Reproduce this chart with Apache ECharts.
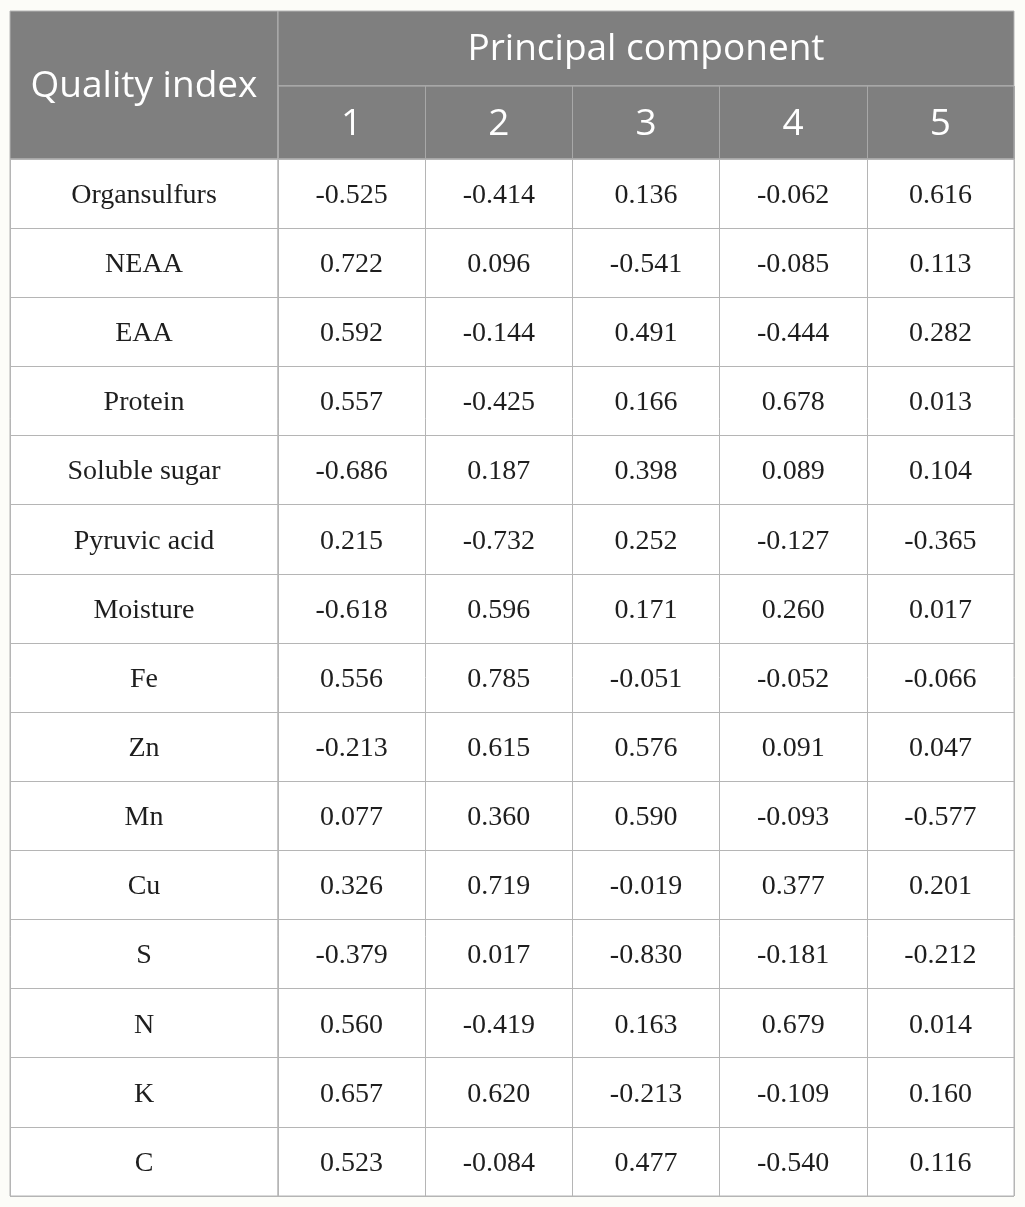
<!DOCTYPE html>
<html><head><meta charset="utf-8">
<script src="https://cdn.jsdelivr.net/npm/echarts@6/dist/echarts.min.js"></script>
<style>html,body{margin:0;padding:0;background:#fcfcf8;}#c{width:1025px;height:1207px;}</style>
</head><body><div id="c"></div>
<script>
var rowHeader = 'Quality index';
var groupHeader = 'Principal component';
var components = ['1', '2', '3', '4', '5'];
var indices = ['Organsulfurs', 'NEAA', 'EAA', 'Protein', 'Soluble sugar', 'Pyruvic acid', 'Moisture', 'Fe', 'Zn', 'Mn', 'Cu', 'S', 'N', 'K', 'C'];
var pc1 = [-0.525, 0.722, 0.592, 0.557, -0.686, 0.215, -0.618, 0.556, -0.213, 0.077, 0.326, -0.379, 0.560, 0.657, 0.523];
var pc2 = [-0.414, 0.096, -0.144, -0.425, 0.187, -0.732, 0.596, 0.785, 0.615, 0.360, 0.719, 0.017, -0.419, 0.620, -0.084];
var pc3 = [0.136, -0.541, 0.491, 0.166, 0.398, 0.252, 0.171, -0.051, 0.576, 0.590, -0.019, -0.830, 0.163, -0.213, 0.477];
var pc4 = [-0.062, -0.085, -0.444, 0.678, 0.089, -0.127, 0.260, -0.052, 0.091, -0.093, 0.377, -0.181, 0.679, -0.109, -0.540];
var pc5 = [0.616, 0.113, 0.282, 0.013, 0.104, -0.365, 0.017, -0.066, 0.047, -0.577, 0.201, -0.212, 0.014, 0.160, 0.116];
var loadings = [pc1, pc2, pc3, pc4, pc5];

var HEAD_BG = '#7f7f7f', HEAD_LINE = '#a8a8a8', BODY_LINE = '#b5b5b5';
var HEAD_FONT = 'normal 37px "Open Sans"';
var BODY_FONT = 'normal 28px "Liberation Serif"';

function textSeries(gridIndex, data, font, color, dy) {
  return {
    type: 'custom', xAxisIndex: gridIndex, yAxisIndex: gridIndex, data: data, silent: true,
    renderItem: function (params, api) {
      var p = api.coord([api.value(0), api.value(1)]);
      return { type: 'text', x: p[0], y: p[1] + dy,
        style: { text: String(data[params.dataIndex][2]), align: 'center', verticalAlign: 'middle', font: font, fill: color } };
    }
  };
}
function catAxis(gi, cats, inverse, lineColor) {
  return { type: 'category', gridIndex: gi, data: cats, inverse: !!inverse, boundaryGap: true,
    axisLine: { show: false }, axisTick: { show: false }, axisLabel: { show: false },
    splitLine: { show: true, lineStyle: { color: lineColor, width: 1 } } };
}

var bodyLeft = indices.map(function (n, i) { return [0, i, n]; });
var bodyRight = [];
loadings.forEach(function (col, j) { col.forEach(function (v, i) { bodyRight.push([j, i, v.toFixed(3)]); }); });

var chart = echarts.init(document.getElementById('c'), null, { renderer: 'canvas' });
chart.setOption({
  animation: false,
  backgroundColor: '#fcfcf8',
  grid: [
    { left: 10, top: 11, width: 268, height: 148, show: true, backgroundColor: HEAD_BG, borderColor: BODY_LINE, borderWidth: 1 },
    { left: 278, top: 11, width: 736, height: 75, show: true, backgroundColor: HEAD_BG, borderColor: BODY_LINE, borderWidth: 1 },
    { left: 278, top: 86, width: 736, height: 73, show: true, backgroundColor: HEAD_BG, borderColor: BODY_LINE, borderWidth: 1 },
    { left: 10, top: 159, width: 268, height: 1037, show: true, backgroundColor: '#ffffff', borderColor: BODY_LINE, borderWidth: 1 },
    { left: 278, top: 159, width: 736, height: 1037, show: true, backgroundColor: '#ffffff', borderColor: BODY_LINE, borderWidth: 1 }
  ],
  xAxis: [
    catAxis(0, [rowHeader], false, 'transparent'),
    catAxis(1, [groupHeader], false, 'transparent'),
    catAxis(2, components, false, HEAD_LINE),
    catAxis(3, [rowHeader], false, BODY_LINE),
    catAxis(4, components, false, BODY_LINE)
  ],
  yAxis: [
    catAxis(0, [''], true, 'transparent'),
    catAxis(1, [''], true, 'transparent'),
    catAxis(2, [''], true, 'transparent'),
    catAxis(3, indices, true, BODY_LINE),
    catAxis(4, indices, true, BODY_LINE)
  ],
  series: [
    textSeries(0, [[0, 0, rowHeader]], HEAD_FONT, '#ffffff', 1),
    textSeries(1, [[0, 0, groupHeader]], HEAD_FONT, '#ffffff', 1),
    textSeries(2, components.map(function (c, j) { return [j, 0, c]; }), HEAD_FONT, '#ffffff', 2),
    textSeries(3, bodyLeft, BODY_FONT, '#1e1e1e', 2),
    textSeries(4, bodyRight, BODY_FONT, '#1e1e1e', 2)
  ]
});
</script></body></html>
